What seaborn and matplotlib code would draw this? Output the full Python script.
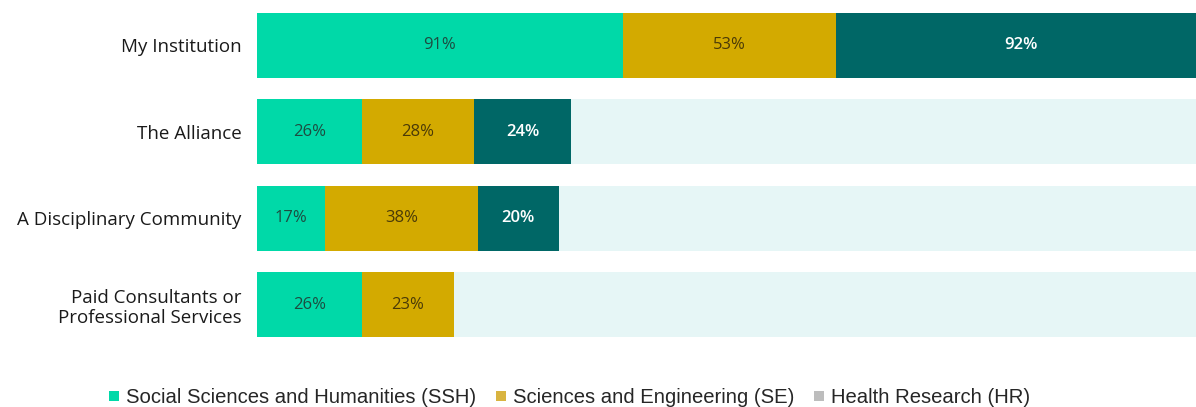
import matplotlib
matplotlib.use("Agg")
import matplotlib.pyplot as plt
from matplotlib.lines import Line2D
import numpy as np
import pandas as pd
import seaborn as sns

# Data
categories = ["My Institution", "The Alliance", "A Disciplinary Community",
              "Paid Consultants or\nProfessional Services"]
ssh = [91, 26, 17, 26]
se = [53, 28, 38, 23]
hr = [92, 24, 20, 0]
series_names = ["Social Sciences and Humanities (SSH)",
                "Sciences and Engineering (SE)",
                "Health Research (HR)"]

# Styling
col_ssh = "#00d9a8"
col_se = "#d3aa00"
col_hr = "#006766"
col_bg = "#e6f6f6"
legend_cols = ["#00d9a8", "#d9b440", "#bdbdbd"]
txt_cols = ["#1d4c40", "#4a3a08", "#ffffff"]

sns.set_style("white")
plt.rcParams["font.family"] = ["Open Sans", "DejaVu Sans"]

fig = plt.figure(figsize=(11.96, 4.07), dpi=100)
ax = fig.add_axes([257 / 1196, 0.145, 1 - 257 / 1196, 0.8495])

ssh_a = np.array(ssh, dtype=float)
se_a = np.array(se, dtype=float)
hr_a = np.array(hr, dtype=float)
cum1 = ssh_a
cum2 = ssh_a + se_a
cum3 = ssh_a + se_a + hr_a
xmax = cum3.max()

df = pd.DataFrame({
    "category": categories,
    "bg": [xmax] * len(categories),
    "c3": cum3, "c2": cum2, "c1": cum1,
})

bh = 0.75
for col, color in [("bg", col_bg), ("c3", col_hr), ("c2", col_se), ("c1", col_ssh)]:
    sns.barplot(data=df, x=col, y="category", orient="h", color=color,
                width=bh, saturation=1, linewidth=0, ax=ax)

# Segment value labels
for i in range(len(categories)):
    starts = [0, cum1[i], cum2[i]]
    vals = [ssh_a[i], se_a[i], hr_a[i]]
    for j in range(3):
        if vals[j] <= 0:
            continue
        weight = "semibold" if j == 2 else "normal"
        ax.text(starts[j] + vals[j] / 2, i, f"{int(vals[j])}%",
                ha="center", va="center", fontsize=12,
                color=txt_cols[j], fontweight=weight)

ax.set_xlim(0, xmax * 0.9895)
ax.set_ylim(len(categories) - 0.5, -0.5)
ax.set_xlabel("")
ax.set_ylabel("")
ax.set_xticks([])
ax.tick_params(axis="y", length=0, pad=11, labelsize=13.5, labelcolor="#1a1a1a")
for lab in ax.get_yticklabels():
    lab.set_horizontalalignment("right")
    lab.set_multialignment("right")
    lab.set_linespacing(1.15)
sns.despine(ax=ax, left=True, bottom=True, top=True, right=True)

handles = [Line2D([0], [0], marker="s", linestyle="none", markersize=6.5,
                  markerfacecolor=c, markeredgewidth=0) for c in legend_cols]
fig.legend(handles, series_names, loc="center", bbox_to_anchor=(0.475, 0.024),
           ncol=3, frameon=False, handletextpad=0.2, columnspacing=0.8,
           handlelength=0.8, prop={"family": "Liberation Sans", "size": 14.6})

fig.savefig("out.png", dpi=100)
